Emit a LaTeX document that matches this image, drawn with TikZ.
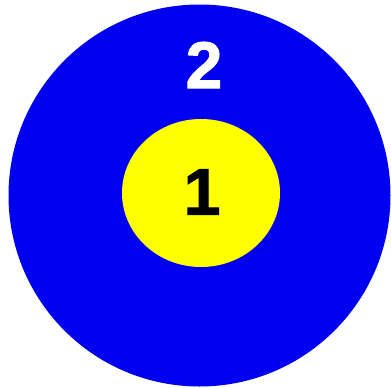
\documentclass[tikz,border=0pt]{standalone}
\usepackage{fontspec}
\setmainfont{Liberation Sans}
\newfontfamily\heavyfont[BoldFeatures={FakeBold=1.6}]{Liberation Sans}
\usetikzlibrary{shapes.geometric}
\usepackage{xcolor}
\definecolor{DiscBlue}{HTML}{0000F0}
\definecolor{DiscYellow}{HTML}{FFFF00}

\begin{document}
\begin{tikzpicture}[
      x=1pt, y=-1pt,
      every node/.style={font=\fontsize{66}{66}\selectfont\heavyfont\bfseries, inner sep=0pt},
      outer/.style={circle, fill=DiscBlue, minimum size=382pt},
      inner/.style={ellipse, fill=DiscYellow, minimum width=158pt, minimum height=148pt}
    ]
    \useasboundingbox (0,0) rectangle (391,388);
    \node[outer] (zone2) at (199.5,195.5) {};
    \node[inner] (zone1) at (201,193) {};
    \node[text=black] (lab1) at (202,192) {1};
    \node[text=white] (lab2) at (204,65) {2};
  \end{tikzpicture}
\end{document}
